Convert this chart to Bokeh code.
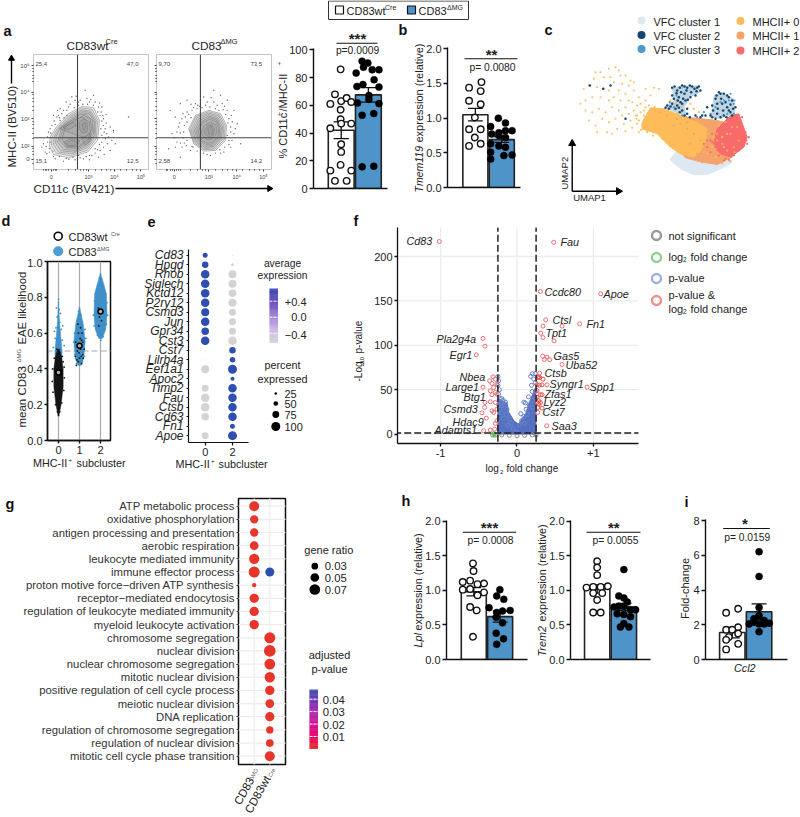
import math
import numpy as np
from bokeh.plotting import figure
from bokeh.models import FixedTicker, Range1d
from bokeh.core.properties import value
from bokeh.embed import file_html
from bokeh.resources import INLINE

FONT = "Liberation Sans"
BLUE = "#4f94c8"
INK = "#222222"

# ---------- data: panel a flow plots (display units of the biexponential axis)
flow_y_ticks = [197, 276, 355, 438, 476]
flow_y_labels = ["10⁵", "10⁴", "10³", "10²", "0"]
flow_y_minor = [205,215,225,235,245,284,295,305,318,330,362,372,385,398,415,445,452,462,490]
flow1_x_ticks = [153, 265, 343, 422]
flow2_x_ticks = [522, 625, 708, 788]
flow1_x_minor = [130,135,140,145,160,165,170,205,225,240,250,258,285,305,320,332,360,380,398,410]
flow2_x_minor = [498,503,510,516,530,535,540,570,590,605,615,645,665,680,695,725,745,760,775]
flow_x_labels = ["0", "10³", "10⁴", "10⁵"]
flow1_gate = (232, 412)
flow2_gate = (600, 412)
flow1_quadrants = ["25,4", "47,0", "15,1", "12,5"]
flow2_quadrants = ["9,70", "73,5", "2,58", "14,2"]
flow1_contours = [
    [(148,437),(160,462),(205,472),(262,455),(292,420),(298,360),(280,322),(245,318),(205,340),(170,378),(150,410)],
    [(154,436),(168,458),(210,466),(262,449),(288,415),(293,360),(276,327),(245,323),(208,344),(174,380),(156,410)],
    [(160,432),(175,455),(215,460),(262,442),(285,410),(288,360),(272,332),(245,328),(210,348),(178,380),(162,410)],
    [(166,428),(182,451),(220,455),(262,436),(282,405),(285,362),(270,336),(245,332),(212,352),(182,380),(168,408)],
    [(172,425),(190,447),(225,450),(262,430),(280,400),(282,365),(268,340),(245,337),(215,355),(185,380)],
    [(178,421),(198,442),(230,444),(264,422),(278,392),(276,360),(258,342),(240,342),(218,358),(190,380)],
    [(185,418),(205,437),(235,438),(265,415),(275,385),(270,355),(250,345),(222,362),(195,380)],
    [(178,385),(215,360),(245,350),(268,365),(270,395),(255,410),(232,405),(205,395)],
    [(188,382),(220,365),(228,375),(205,388)],
    [(238,365),(252,355),(263,372),(260,395),(245,398),(238,385)],
    [(245,372),(254,366),(258,380),(250,390)],
    [(190,425),(210,415),(240,420),(228,440),(200,440)],
    [(198,428),(212,420),(232,424),(222,436),(204,436)],
    [(245,415),(270,400),(272,420),(255,435)],
]
flow2_contours = [
    [(565,385),(585,345),(625,330),(660,340),(678,375),(675,420),(645,450),(610,452),(580,430)],
    [(568,388),(587,348),(625,334),(657,343),(674,376),(671,418),(644,446),(611,448),(582,428)],
    [(572,390),(590,352),(625,338),(655,347),(670,378),(667,415),(642,442),(612,445),(585,425)],
    [(577,391),(594,356),(625,342),(652,351),(666,380),(663,413),(640,438),(613,441),(588,423)],
    [(582,392),(598,360),(625,347),(650,355),(662,382),(660,412),(638,435),(615,437),(592,420)],
    [(587,394),(602,364),(627,351),(649,360),(658,384),(656,410),(636,431),(616,432),(596,418)],
    [(592,395),(605,368),(628,356),(648,365),(655,385),(652,408),(635,427),(618,428),(600,415)],
    [(602,395),(612,375),(630,365),(645,373),(650,390),(645,405),(632,418),(618,418),(608,408)],
    [(612,392),(622,375),(635,373),(642,388),(638,405),(625,410),(615,402)],
    [(622,385),(630,376),(638,388),(635,400),(625,402)],
]
flow1_dots = [(130,430),(140,460),(145,395),(155,375),(170,350),(185,340),(205,320),(225,300),(240,300),(260,295),(285,305),(305,320),(300,345),(310,375),(320,400),(305,425),(300,450),(275,465),(250,475),(225,478),(190,482),(165,475),(135,455),(148,445),(160,345),(180,325),(198,305),(215,290),(255,270),(280,285),(310,355),(330,380),(345,430),(330,450),(340,395),(150,425),(125,440),(295,470),(180,360),(200,330),(235,315),(262,312),(293,335),(312,395),(285,445),(235,465),(385,350),(340,390),(172,330),(192,352),(228,288),(272,298),(298,308),(318,342),(322,430),(312,462),(268,478),(206,476),(158,452),(142,410),
              (150,385),(162,362),(175,345),(190,330),(210,312),(222,322),(235,305),(248,312),(268,305),(280,315),(295,320),(303,335),(308,345),(305,362),(318,368),(302,385),(315,385),(305,405),(316,415),(298,432),(310,440),(292,448),(285,458),(268,465),(258,468),(240,472),(218,470),(198,474),(178,468),(160,468),(148,455),(138,438),(142,425),(152,398),(165,372),(178,352),(200,345),(325,410),(335,420)]
flow2_dots = [(510,330),(525,350),(540,310),(560,300),(585,310),(610,290),(640,270),(660,285),(680,300),(700,330),(695,365),(710,370),(700,400),(690,440),(670,455),(630,465),(600,460),(570,450),(545,440),(530,425),(515,400),(535,380),(545,355),(560,335),(590,325),(620,305),(650,315),(680,330),(690,380),(685,420),(560,420),(550,395),(560,365),(575,330),(600,300),(665,310),(525,440),(505,445),(540,470),(720,430),(572,312),(598,318),(632,292),(672,318),(692,345),(704,385),(694,420),(658,448),(578,440),(552,428),
              (548,340),(555,350),(565,342),(572,352),(580,322),(592,315),(605,322),(615,315),(628,320),(640,305),(645,325),(655,330),(668,328),(675,342),(685,355),(682,368),(690,395),(680,405),(685,432),(672,440),(660,458),(645,458),(620,462),(610,458),(590,452),(575,438),(558,435),(548,412),(540,398),(552,375),(538,368),(530,395),(522,412),(540,428)]

# ---------- data: bar panels
a_wt = [(.98,85.9),(.77,67.9),(1.0,63),(1.2,65.2),(.6,61),(1.37,62.4),(.98,56.8),(.98,49.9),(.6,43.4),(1.0,46.8),(1.37,46.8),(1.0,31.9),(1.0,26.4),(.98,17),(.6,12.9),(1.37,12.9),(.77,5.5),(1.2,5.5)]
a_ko = [(1.77,91.8),(1.98,90.4),(1.55,83.2),(1.82,87.5),(2.14,85.6),(2.39,85.6),(2.21,78.4),(1.58,73.6),(1.8,75),(2.39,73.1),(2.02,67.1),(2.02,64.3),(1.6,61.6),(2.39,61.2),(1.77,52.8),(2.2,54),(1.77,15.6),(2.2,16.1)]
a_means, a_errs = [42, 67.5], [6, 5.2]
b_wt = [(.76,1.44),(1.23,1.52),(1.2,1.39),(.76,1.25),(1.2,1.2),(.98,1.01),(.76,.84),(1.2,.84),(.98,.72),(.76,.6),(1.2,.63)]
b_ko = [(1.87,1.0),(2.14,.93),(1.58,.88),(1.89,.79),(2.14,.82),(2.39,.82),(1.62,.77),(2.14,.72),(1.89,.75),(1.58,.63),(1.89,.6),(2.14,.58),(2.39,.47),(2.08,.46),(1.58,.51),(1.58,.41)]
b_means, b_errs = [1.05, .69], [.09, .04]
h1_wt = [(.97,1.39),(.99,1.28),(.58,1.12),(.86,1.14),(1.14,1.09),(1.39,1.1),(.58,1.01),(.86,1.02),(1.39,.97),(1.14,.93),(.86,.76),(1.11,.71),(.97,.33)]
h1_ko = [(1.99,1.01),(1.87,.92),(2.14,.87),(1.58,.75),(1.87,.68),(2.09,.7),(2.38,.71),(1.85,.61),(2.09,.53),(1.85,.38),(2.13,.3),(1.87,.22)]
h1_means, h1_errs = [.98, .62], [.06, .08]
h2_wt = [(1.0,1.42),(1.0,1.33),(1.0,1.22),(.6,1.04),(.85,1.05),(1.13,1.05),(1.4,1.06),(.85,.96),(1.19,.96),(1.0,.86),(.85,.68),(1.13,.68)]
h2_ko = [(2.0,1.3),(1.81,.92),(2.0,.89),(2.13,.83),(1.63,.76),(1.81,.77),(2.0,.77),(2.25,.72),(2.44,.72),(1.75,.66),(2.0,.65),(2.25,.62),(1.87,.47),(2.19,.47),(2.0,.52)]
h2_means, h2_errs = [1.02, .76], [.06, .05]
i_wt = [(.77,2.69),(1.22,2.92),(1.22,1.86),(.77,1.71),(1.0,1.71),(.87,1.29),(1.22,1.5),(.77,1.13),(1.22,.9),(.77,.58)]
i_ko = [(2.0,6.2),(2.0,4.78),(2.0,3.0),(2.0,2.53),(1.81,2.34),(2.19,2.25),(1.63,2.05),(1.81,2.15),(2.0,2.05),(2.19,2.05),(2.38,2.09),(2.0,1.6)]
i_means, i_errs = [1.55, 2.75], [.3, .45]

# ---------- data: UMAP (c), in embedding display units
umap_vfc1 = [(418,478),(450,505),(490,522),(530,522),(570,505),(602,488),(580,460),(500,440),(440,450)]
umap_mhc1 = [(400,340),(470,350),(560,360),(600,370),(610,420),(605,470),(560,492),(510,484),(465,472),(440,440),(420,400)]
umap_mhc0 = [(335,365),(360,322),(400,325),(450,345),(500,365),(530,385),(525,420),(510,452),(490,470),(450,460),(420,440),(380,400),(335,385)]
umap_mhc2 = [(560,385),(600,345),(625,340),(650,410),(640,440),(600,470),(570,460),(550,430)]
umap_vfc2a = [(425,265),(450,255),(500,255),(510,275),(480,290),(462,320),(470,350),(420,330),(402,320),(430,300)]
umap_vfc2b = [(550,285),(575,275),(610,295),(615,340),(570,355),(540,350)]
umap_sparse = [(195,215),(210,215),(235,205),(255,200),(265,210),(270,225),(285,225),(300,240),(310,245),(190,235),(220,230),(240,230),(250,245),(275,250),(295,255),(160,265),(175,255),(200,260),(220,265),(235,270),(265,270),(285,280),(310,270),(150,310),(165,300),(185,290),(210,290),(235,300),(250,290),(270,300),(295,300),(325,290),(345,265),(370,262),(385,265),(165,330),(185,335),(205,325),(225,335),(245,320),(265,330),(285,320),(305,305),(320,315),(175,360),(195,375),(215,355),(235,365),(255,355),(275,345),(295,340),(310,330),(330,310),(345,300),(360,285),(230,395),(245,400),(260,385),(280,370),(300,360),(315,345),(200,395),(320,370),(325,395),(345,320),(330,335),(318,355),(305,382),(285,392),(340,345)]
umap_dark = [(178,255),(240,255),(218,265),(285,355),(425,262),(440,270),(455,255),(470,262),(485,258),(500,262),(510,270),(495,285),(480,290),(462,280),(445,290),(430,295),(420,318),(405,322),(440,315),(455,330),(470,340),(495,345),(515,345),(465,300),(450,305),(530,320),(545,315),(555,295),(570,280),(590,285),(605,300),(615,320),(600,335),(580,345),(560,340),(545,350),(575,310),(590,320),
             (432,258),(448,262),(462,258),(478,255),(492,265),(505,258),(438,278),(452,275),(468,270),(482,275),(498,272),(425,285),(442,300),(458,295),(472,298),(435,325),(415,325),(448,335),(462,345),(478,350),(425,310),(410,315),(445,322),(455,310),(470,325),(558,285),(565,275),(580,280),(595,290),(572,295),(585,305),(600,312),(560,310),(548,330),(562,325),(578,330),(595,330),(605,345),(555,355),(570,350),(588,350),(540,345),(525,345),(510,350),(608,325)]
umap_mid = [(610,310),(580,300),(610,340),(540,340),(455,345),(430,320),(595,300),(500,350),(520,335),(438,285),(418,305),(600,280),(570,305),(555,320),(590,340),(612,300),(440,300)]
umap_yellow = [(420,300),(435,310),(450,318),(480,310),(490,325),(505,335),(440,340),(465,355),(520,455),(500,445),(470,430),(485,410),(510,395),(535,400),(550,410),(565,375),(470,460),(450,450),(430,425),
               (345,350),(360,340),(375,335),(390,330),(350,375),(365,385),(385,395),(405,345),(420,355),(430,370),(445,385),(455,400),(470,395),(480,380),(495,375),(510,385),(520,410),(505,425),(490,440),(475,450),(455,440),(440,420),(425,410),(410,400),(400,380),(560,420),(575,410),(545,440),(530,460),(555,470),(580,440),(590,400),(335,375),(325,360),(320,345),(340,330),(355,315),(372,320),(332,388),(350,395),(368,405),(395,415),(415,430)]
umap_red = [(545,400),(540,420),(560,450),(580,480),(600,350),(615,345),(630,365),(645,395),(648,420),(625,450),(595,478),(610,465),(530,440),(570,400),(580,385),(590,430),(575,460),(555,440),(545,425),(605,355),(590,370),(655,410),(650,430),(640,395),(635,350),(585,475),(565,465),(540,455),(530,420),(520,430)]
umap_orange = [(600,482),(575,488),(540,488),(515,485),(612,455),(605,380),(585,365),(470,365),(440,355),(410,345),(390,335),(430,375),(450,370),(470,385),(490,400),(510,420),(500,460),(480,430),(540,380),(560,400),(575,430),(590,450),(610,440),(625,420),(600,400),(620,380),(570,370),(545,365)]

# ---------- data: panel d
d_categories = [0, 1, 2]
d0_black_y, d0_black_w = [.14,.2,.3,.4,.47,.51], [.02,.12,.22,.22,.14,.04]
d0_blue_y, d0_blue_w = [.42,.5,.6,.7,.78], [.15,.17,.09,.03,.01]
d1_blue_y, d1_blue_w = [.42,.46,.55,.65,.72,.74], [.08,.2,.27,.18,.05,.01]
d2_blue_y, d2_blue_w = [.57,.62,.7,.82,.88,.93], [.08,.25,.31,.28,.14,.01]
d_blue_dots = [(0,.79),(.03,.73),(-.06,.69),(.06,.66),(-.12,.63),(.13,.62),(-.16,.57),(.18,.56),(.05,.6),(-.25,.52),(.27,.53),(-.2,.61),(.2,.64),(-.1,.74),(.09,.71),(1,.74),(.95,.72),(1.06,.7),(.88,.67),(1.13,.66),(.76,.6),(1.26,.62),(.72,.55),(1.3,.57),(.78,.48),(1.24,.47),(.86,.43),(1.14,.44),(2,.93),(1.95,.91),(2.06,.9),(1.88,.87),(2.14,.85),(1.72,.78),(2.3,.77),(1.66,.7),(2.34,.7),(1.7,.64),(2.28,.65),(1.85,.59),(2.13,.58),(2.02,.56)]
d_black_dots = [(0,.14),(-.05,.16),(.06,.16),(-.14,.2),(.15,.21),(-.26,.27),(.25,.28),(-.3,.33),(.28,.35),(-.28,.4),(.27,.41),(-.2,.46),(.18,.47),(-.08,.51),(.05,.49),(.1,.45),(-.1,.44),(.22,.44),(.85,.42),(.95,.44),(1.1,.43),(1.18,.46),(.8,.47),(.9,.5),(1.05,.51),(1.22,.51),(.82,.55),(1.1,.56),(.95,.6),(1.05,.63),(.92,.65),(1.12,.6),(1.0,.46),(.88,.45),(1.15,.48),(.98,.49),(1.08,.47),(.93,.53),(1.03,.57),(1.16,.55),(1.92,.64),(2.05,.67),(2.1,.72),(1.9,.74),(1.95,.69)]
d_wt_means = [.38, .53, .72]

# ---------- data: panel e
e_genes = ["Cd83","Hpgd","Rhob","Siglech","Kctd12","P2ry12","Csmd3","Jun","Gpr34","Cst3","Cst7","Lilrb4a","Eef1a1","Apoc2","Timp2","Fau","Ctsb","Cd63","Fn1","Apoe"]
e_pct_0 = [54,71,94,94,94,94,88,94,83,94,8,8,88,2,77,94,94,83,2,77]
e_pct_2 = [8,31,88,88,83,88,77,77,77,94,71,60,100,43,94,94,94,94,54,100]
e_high_0 = [1,1,1,1,1,1,1,1,1,1,0,0,0,0,0,0,0,0,0,0]
e_high_2 = [0,0,0,0,0,0,0,0,0,0,1,1,1,1,1,1,1,1,1,1]
e_x_labels = ["0", "2"]
e_legend_pct = [25, 50, 75, 100]
e_bar_ticks = [0.4, 0.0, -0.4]
e_bar_labels = ["+0.4", "0.0", "−0.4"]
e_palette = ["#d6d6d6", "#cfb8ea", "#a583d8", "#6a4cb8", "#3f4fb3"]

# ---------- data: panel f
f_named = [(-1.017,216.9),(.48,216),(.306,160.6),(1.096,158),(.376,128.7),(.59,121.6),(.82,124.2),(.34,121.6),(.31,113.7),(.34,108.8),(.485,105),(-.445,107.7),(-.42,99),(-.533,89.3),(.336,87.8),(.393,86.7),(.358,84),(.428,83.7),(.59,78.4),(.917,52.9),(.297,68.7),(.393,55.5),(-.445,52.9),(.389,9.4),(.27,24.4)]
f_left = [(-.314,64.5),(-.358,60),(-.284,61.9),(-.328,57),(-.262,56.3),(-.306,52.5),(-.349,48.8),(-.284,46.9),(-.328,44.3),(-.262,45),(-.349,36.4),(-.419,35.6),(-.284,35.6),(-.424,30),(-.328,26.3),(-.262,28.1),(-.459,24),(-.306,24.4),(-.402,18),(-.284,12),(-.262,15),(-.437,3.8),(-.349,4.5),(-.293,5.6)]
f_right = [(.271,63.8),(.297,63.8),(.284,64.5),(.341,61.9),(.262,55.5),(.293,55.2),(.328,55.5),(.262,48.8),(.306,44.3),(.328,44.3),(.262,41.3),(.284,37.5),(.306,35.6),(.262,35.6),(.284,33.8),(.328,29.3),(.271,30)]
f_blue = [(-.25,65),(-.24,60),(-.25,55),(-.23,50),(-.24,45),(-.22,40),(-.2,40),(-.18,38),(-.15,36),(-.24,33),(-.2,32),(-.16,33),(-.22,28),(-.13,28),(-.2,24),(-.14,22),(-.1,17),(-.18,18),(-.08,12),(-.12,10),(-.05,6),(0,2),(.2,68),(.18,65),(.24,68),(.22,62),(.19,55),(.24,58),(.2,48),(.24,48),(.15,42),(.09,36),(.11,35),(.2,38),(.24,40),(.16,33),(.12,28),(.2,30),(.05,23),(.09,20),(.06,15),(.14,22),(.03,10),(.1,12)]
f_blue_mass = [(-.25,40),(-.13,35),(-.11,25),(-.04,15),(.02,11),(.07,18),(.11,22),(.15,33),(.24,52),(.25,0),(-.25,0)]
f_green = [(-.32,-1),(-.3,-1),(-.28,-1),(-.3,.5)]
f_grey = [(-.2,-1),(-.1,-1.5),(0,-2),(.1,-1.5),(.2,-1),(.25,-1)]
f_thresholds = (-.25, .25, 1.3)
f_labels = [("Cd83",406,240),("Fau",560,241),("Ccdc80",544,291),("Apoe",603,293),("Ctsl",552,319),("Fn1",586,323),("Tpt1",545,332),("Pla2g4a",436,338),("Egr1",449,354),("Gas5",553,355),("Uba52",565,364),("Ctsb",544,372),("Nbea",459,376),("Syngr1",549,383),("Large1",445,386),("Spp1",589,386),("Btg1",463,396),("Zfas1",544,393),("Lyz2",543,401),("Csmd3",443,408),("Cst7",542,411),("Hdac9",452,421),("Saa3",551,425),("Adamts1",434,429)]

# ---------- data: panel g
g_terms = ["ATP metabolic process","oxidative phosphorylation","antigen processing and presentation","aerobic respiration","leukocyte mediated immunity","immune effector process","proton motive force−driven ATP synthesis","receptor−mediated endocytosis","regulation of leukocyte mediated immunity","myeloid leukocyte activation","chromosome segregation","nuclear division","nuclear chromosome segregation","mitotic nuclear division","positive regulation of cell cycle process","meiotic nuclear division","DNA replication","regulation of chromosome segregation","regulation of nuclear division","mitotic cell cycle phase transition"]
g_row_a = [0,1,2,3,4,5,6,7,8,9]
g_ratio_a = [.063,.046,.046,.05,.066,.073,.006,.056,.056,.056]
g_row_b = [5,10,11,12,13,14,15,16,17,18,19]
g_ratio_b = [.053,.073,.08,.07,.066,.056,.05,.056,.036,.04,.063]
g_col_b = ["#2f4fb0"]+["#e6352b"]*10
g_legend_ratio = [.03,.05,.07]
g_legend_labels = ["0.03","0.05","0.07"]
g_p_ticks = [.04,.03,.02,.01]
g_p_labels = ["0.04","0.03","0.02","0.01"]
g_palette = ["#e6352b", "#e8006e", "#c71fa0", "#8e2fb0", "#3f51b5"]


def abs_style(left, top):
    return {"position": "absolute", "left": f"{left}px", "top": f"{top}px"}


def rng(v0, p0, v1, p1, a, b):
    s = (v1 - v0) / (p1 - p0)
    return Range1d(v0 + (a - p0) * s, v0 + (b - p0) * s)


def panel(x0, y0, x1, y1, xr, yr, L=4, B=4, R=4, T=4):
    x0r, y0r, x1r, y1r = round(x0), round(y0), round(x1), round(y1)
    p = figure(width=x1r-x0r+L+R, height=y1r-y0r+T+B, x_range=xr, y_range=yr,
               toolbar_location=None, output_backend="svg",
               min_border_left=L, min_border_right=R, min_border_top=T, min_border_bottom=B,
               background_fill_color=None, border_fill_color=None, outline_line_color=None,
               styles=abs_style(x0r-L, y0r-T))
    p.grid.visible = False
    p.axis.axis_label_text_font = FONT
    p.axis.major_label_text_font = FONT
    return p


def hide_axes(p):
    p.xaxis.visible = False
    p.yaxis.visible = False


def style_axis(ax, ticks, size=11, tick=4, lw=1.4, labels=None, color=INK):
    ax.ticker = FixedTicker(ticks=ticks)
    ax.major_label_text_font_size = f"{size}px"
    ax.major_label_text_color = color
    ax.major_tick_out = tick
    ax.major_tick_in = 0
    ax.minor_tick_out = 0
    ax.minor_tick_in = 0
    ax.axis_line_width = lw
    ax.axis_line_color = "#111111"
    ax.major_tick_line_color = "#111111"
    ax.major_tick_line_width = lw
    ax.major_label_standoff = 2
    if labels is not None:
        ax.major_label_overrides = dict(zip(ticks, labels))


def xs(pts):
    return [q[0] for q in pts]


def ys(pts):
    return [q[1] for q in pts]


def ramp(palette, n=48):
    out = []
    for t in np.linspace(0, 1, n):
        k = min(int(t*(len(palette)-1)), len(palette)-2)
        f = t*(len(palette)-1)-k
        a = [int(palette[k][i:i+2], 16) for i in (1, 3, 5)]
        b = [int(palette[k+1][i:i+2], 16) for i in (1, 3, 5)]
        out.append("#%02x%02x%02x" % tuple(round(u+(v-u)*f) for u, v in zip(a, b)))
    return out


figs = []


def bars(x0, y0, x1, y1, v0, p0, v1, p1, c1px, unit, ticks, labels, wt, ko, means, errs, L=40):
    top_px = round(y0) - 1
    xr = rng(1, c1px, 2, c1px + unit, x0, x1)
    yr = rng(v0, p0, v1, p1, y1, top_px)
    p = panel(x0, top_px, x1, y1, xr, yr, L=L, B=6, R=4, T=6)
    style_axis(p.yaxis[0], ticks, labels=labels)
    style_axis(p.xaxis[0], [])
    p.xaxis[0].major_label_text_font_size = "0px"
    p.vbar(x=[1, 2], width=.95, top=means, bottom=v0, fill_color=["white", BLUE],
           line_color="#222222", line_width=1.6)
    p.segment(x0=[1, 2], x1=[1, 2], y0=[m-e for m, e in zip(means, errs)],
              y1=[m+e for m, e in zip(means, errs)], line_color="#111111", line_width=1.3)
    for sign in (-1, 1):
        p.segment(x0=[.72, 1.72], x1=[1.28, 2.28], y0=[m+sign*e for m, e in zip(means, errs)],
                  y1=[m+sign*e for m, e in zip(means, errs)], line_color="#111111", line_width=1.3)
    p.scatter(xs(wt), ys(wt), size=6.5, fill_color="white", line_color="#111111", line_width=1.4)
    p.scatter(xs(ko), ys(ko), size=7, fill_color="#000000", line_color="#000000", line_width=.5)
    figs.append(p)


# ---- flow
def flow(x0, crop0, crop1, xticks, xminor, gate, contours, dots, quads, show_labels):
    xr = Range1d(crop0, crop1)
    yr = Range1d(507, 163)
    p = panel(x0, 54, x0+115, 169, xr, yr, L=22, B=16, R=3, T=3)
    p.outline_line_color = "#c4c4c4"
    p.outline_line_width = 1
    ax = p.xaxis[0]
    style_axis(ax, xticks, size=5.5, tick=2, lw=.8, labels=flow_x_labels, color="#444444")
    ax.ticker = FixedTicker(ticks=xticks, minor_ticks=xminor)
    ax.minor_tick_out = 1
    ax.minor_tick_line_color = "#111111"
    ax.axis_line_color = None
    ay = p.yaxis[0]
    style_axis(ay, flow_y_ticks, size=6 if show_labels else 1, tick=2, lw=.8,
               labels=flow_y_labels if show_labels else ["", "", "", "", ""], color="#444444")
    ay.ticker = FixedTicker(ticks=flow_y_ticks, minor_ticks=flow_y_minor)
    ay.minor_tick_out = 1
    ay.minor_tick_line_color = "#111111"
    ay.axis_line_color = None
    p.scatter(xs(dots), ys(dots), size=1.4, color="#666666", line_width=0)
    lx = [[q[0] for q in c]+[c[0][0]] for c in contours]
    ly = [[q[1] for q in c]+[c[0][1]] for c in contours]
    p.patches(lx, ly, fill_color="#444444", fill_alpha=.07, line_color="#777777", line_width=.6, line_alpha=.9)
    p.segment(x0=[gate[0], crop0], x1=[gate[0], crop1], y0=[507, gate[1]], y1=[163, gate[1]],
              line_color="#444444", line_width=1.1)
    p.text(x=[crop0+6, crop0+280, crop0+6, crop0+280], y=[190, 190, 482, 482], text=quads,
           text_font=value(FONT), text_font_size="6px", text_color="#444444", text_baseline="middle")
    figs.append(p)


flow(33, 100, 445, flow1_x_ticks, flow1_x_minor, flow1_gate, flow1_contours, flow1_dots, flow1_quadrants, True)
flow(156, 469, 812, flow2_x_ticks, flow2_x_minor, flow2_gate, flow2_contours, flow2_dots, flow2_quadrants, False)

bars(313, 49.3, 387, 188.3, 0, 188.3, 100, 49.3, 340.7, 27.17, [0,20,40,60,80,100], None, a_wt, a_ko, a_means, a_errs)
bars(446.7, 48.3, 520, 186.7, 0, 186.7, 2, 48.3, 474.7, 26.5, [0,.5,1,1.5,2], ["0.0","0.5","1.0","1.5","2.0"], b_wt, b_ko, b_means, b_errs)
bars(445.7, 520.7, 526.7, 659.3, 0, 659.3, 2, 520.7, 473, 26.33, [0,.5,1,1.5,2], ["0.0","0.5","1.0","1.5","2.0"], h1_wt, h1_ko, h1_means, h1_errs)
bars(570, 520.7, 650, 659.3, 0, 659.3, 2, 520.7, 596.7, 26.67, [0,.5,1,1.5,2], ["0.0","0.5","1.0","1.5","2.0"], h2_wt, h2_ko, h2_means, h2_errs)
bars(705, 520, 786.7, 659, 0, 659, 8, 520, 731.7, 26.67, [0,2,4,6,8], None, i_wt, i_ko, i_means, i_errs, L=20)

# ---- umap
pc = panel(530, 60, 800, 200, Range1d(0, 810), Range1d(600, 180), L=0, B=0, R=0, T=0)
hide_axes(pc)
pc.patch(xs(umap_vfc1), ys(umap_vfc1), fill_color="#dde8f2", line_color="#dde8f2")
pc.patch(xs(umap_mhc1), ys(umap_mhc1), fill_color="#f4a46a", line_color="#f4a46a")
pc.patch(xs(umap_mhc0), ys(umap_mhc0), fill_color="#fdbb5a", line_color="#fdbb5a")
pc.patch(xs(umap_mhc2), ys(umap_mhc2), fill_color="#f96a6a", line_color="#f96a6a")
pc.patch(xs(umap_vfc2a), ys(umap_vfc2a), fill_color="#2a6d99", fill_alpha=.3, line_color=None)
pc.patch(xs(umap_vfc2b), ys(umap_vfc2b), fill_color="#2a6d99", fill_alpha=.3, line_color=None)
pc.scatter(xs(umap_sparse), ys(umap_sparse), size=2, color="#fdbb5a", line_width=0)
pc.scatter(xs(umap_orange), ys(umap_orange), size=2.2, color="#f4a46a", line_width=0)
pc.scatter(xs(umap_yellow), ys(umap_yellow), size=2.2, color="#fdbb5a", line_width=0)
pc.scatter(xs(umap_red), ys(umap_red), size=2.2, color="#f96a6a", line_width=0)
pc.scatter(xs(umap_mid), ys(umap_mid), size=2.2, color="#4a9ac9", line_width=0)
pc.scatter(xs(umap_dark), ys(umap_dark), size=2.5, color="#12466f", line_width=0)
figs.append(pc)

# ---- d
pd_ = panel(47, 261, 110, 440, rng(0, 58, 2, 100, 47, 110), rng(0, 440, 1, 261, 440, 261), L=34, B=20, R=3, T=3)
pd_.outline_line_color = "#111111"
pd_.outline_line_width = 1.5
style_axis(pd_.yaxis[0], [0,.2,.4,.6,.8,1], labels=["0.0","0.2","0.4","0.6","0.8","1.0"], tick=3, size=11)
style_axis(pd_.xaxis[0], d_categories, labels=["0","1","2"], tick=3, size=11)
pd_.segment(x0=d_categories, x1=d_categories, y0=[0,0,0], y1=[1,1,1], line_color="#aaaaaa", line_width=1.2)
pd_.segment(x0=[-1], x1=[3], y0=[.5], y1=[.5], line_color="#aaaaaa", line_width=1.2, line_dash="6 3")


def spindle(p, c, y, w, color):
    p.patch([c+q for q in w]+[c-q for q in reversed(w)], list(y)+list(reversed(y)),
            fill_color=color, line_color=color, line_width=.5)


spindle(pd_, 0, d0_blue_y, d0_blue_w, "#3f90c8")
spindle(pd_, 1, d1_blue_y, d1_blue_w, "#3f90c8")
spindle(pd_, 2, d2_blue_y, d2_blue_w, "#3f90c8")
spindle(pd_, 0, d0_black_y, d0_black_w, "#151515")
pd_.scatter(xs(d_blue_dots), ys(d_blue_dots), size=1.8, color="#3f90c8", line_width=0)
pd_.scatter(xs(d_black_dots), ys(d_black_dots), size=1.8, color="#151515", line_width=0)
pd_.scatter(d_categories, d_wt_means, size=5, fill_color="#b0b0b0", line_color="#000000", line_width=1.5)
figs.append(pd_)

# ---- e
pe = panel(188.3, 249.3, 248.3, 441.7, rng(0, 205, 1, 232.3, 188.3, 248.3), rng(0, 255, 19, 434.9, 441.7, 249.3), L=60, B=18, R=3, T=3)
style_axis(pe.yaxis[0], list(range(20)), size=12, tick=2, lw=1.2, labels=e_genes)
pe.yaxis[0].major_label_text_font_style = "italic"
pe.yaxis[0].major_label_standoff = 3
style_axis(pe.xaxis[0], [0, 1], size=11, tick=3, lw=1.2, labels=e_x_labels)


def pct_size(v):
    return .3 + .087*np.asarray(v, float)


rows = list(range(20))
pe.scatter([0]*20, rows, size=pct_size(e_pct_0), line_width=0,
           color=["#2f4fb0" if h else "#d3d3d3" for h in e_high_0])
pe.scatter([1]*20, rows, size=pct_size(e_pct_2), line_width=0,
           color=["#2f4fb0" if h else "#d3d3d3" for h in e_high_2])
figs.append(pe)

# colour bar e
pbe = panel(269, 288, 278, 343, Range1d(0, 1), rng(0, 316.7, .4, 300.7, 343, 288), L=0, B=0, R=0, T=0)
hide_axes(pbe)
edges = np.linspace(pbe.y_range.start, pbe.y_range.end, 49)
cols = ramp(e_palette)
pbe.quad(left=0, right=1, bottom=edges[:-1], top=edges[1:], fill_color=cols, line_color=cols, line_width=.6)
pbe.segment(x0=[0]*3, x1=[1]*3, y0=e_bar_ticks, y1=e_bar_ticks, line_color="white", line_width=1, line_dash="3 1")
figs.append(pbe)

# ---- f
pf = panel(397.3, 226.7, 637.7, 442.7, rng(-1, 440.3, 1, 592.7, 397.3, 637.7), rng(0, 433.3, 200, 255.7, 442.7, 226.7), L=36, B=20, R=2, T=2)
style_axis(pf.yaxis[0], [0,50,100,150,200], size=11, tick=3, lw=1.3)
style_axis(pf.xaxis[0], [-1,0,1], size=11, tick=3, lw=1.3, labels=["-1","0","+1"])
pf.segment(x0=[-1,0,1], x1=[-1,0,1], y0=[-20]*3, y1=[240]*3, line_color="#ececec", line_width=1.3)
pf.segment(x0=[-2]*5, x1=[2]*5, y0=[0,50,100,150,200], y1=[0,50,100,150,200], line_color="#ececec", line_width=1.3)
pf.patch(xs(f_blue_mass), ys(f_blue_mass), fill_color="#5470c0", line_color="#5470c0")
pf.scatter(xs(f_grey), ys(f_grey), size=4, fill_color=None, line_color="#888888", line_width=1)
pf.scatter(xs(f_green), ys(f_green), size=4, fill_color=None, line_color="#5cb85c", line_width=1)
pf.scatter(xs(f_blue), ys(f_blue), size=4, fill_color=None, line_color="#6a84cc", line_width=1)
pf.scatter(xs(f_left), ys(f_left), size=4, fill_color=None, line_color="#ea6f73", line_width=1)
pf.scatter(xs(f_right), ys(f_right), size=4, fill_color=None, line_color="#ea4f50", line_width=1)
pf.scatter(xs(f_named), ys(f_named), size=4, fill_color=None, line_color="#ea6f73", line_width=1)
pf.segment(x0=[f_thresholds[0], f_thresholds[1]], x1=[f_thresholds[0], f_thresholds[1]], y0=[-20, -20], y1=[233, 233],
           line_color="#222222", line_width=1.5, line_dash="7 3")
pf.segment(x0=[-2], x1=[2], y0=[f_thresholds[2]], y1=[f_thresholds[2]], line_color="#222222", line_width=1.5, line_dash="7 3")
figs.append(pf)

# ---- g
pg = panel(238, 498.3, 285, 764, rng(0, 253.7, 1, 269.3, 238, 285), rng(0, 506, 19, 755.7, 764, 498.3), L=236, B=4, R=2, T=2)
pg.outline_line_color = "#111111"
pg.outline_line_width = 1.5
style_axis(pg.yaxis[0], list(range(20)), size=11.3, tick=2, lw=.8, labels=g_terms, color="#333333")
pg.yaxis[0].axis_line_color = None
pg.xaxis.visible = False
pg.segment(x0=[0,1], x1=[0,1], y0=[-1,-1], y1=[20,20], line_color="#ececec", line_width=1.2)
pg.segment(x0=[-2]*20, x1=[3]*20, y0=list(range(20)), y1=list(range(20)), line_color="#ececec", line_width=1.2)


def ratio_size(v):
    return 6.7 + 100*(np.asarray(v, float)-.03)


pg.scatter([0]*10, g_row_a, size=ratio_size(g_ratio_a), color="#e6352b", line_width=0)
pg.scatter([1]*11, g_row_b, size=ratio_size(g_ratio_b), color=g_col_b, line_width=0)
figs.append(pg)

# colour bar g
pbg = panel(309.3, 689.3, 317.7, 749.3, Range1d(0, 1), rng(.04, 699, .01, 736.3, 749.3, 689.3), L=0, B=0, R=0, T=0)
hide_axes(pbg)
edges2 = np.linspace(pbg.y_range.start, pbg.y_range.end, 49)
cols2 = ramp(g_palette)
pbg.quad(left=0, right=1, bottom=edges2[:-1], top=edges2[1:], fill_color=cols2, line_color=cols2, line_width=.6)
pbg.segment(x0=[0]*4, x1=[1]*4, y0=g_p_ticks, y1=g_p_ticks, line_color="white", line_width=1, line_dash="3 1")
figs.append(pbg)

# ---- page overlay: text, legends, arrows
page = figure(width=800, height=817, x_range=Range1d(0, 800), y_range=Range1d(817, 0),
              toolbar_location=None, output_backend="svg", min_border=0,
              background_fill_color=None, border_fill_color=None, outline_line_color=None,
              styles=abs_style(0, 0))
page.axis.visible = False
page.grid.visible = False


def T(x, y, s, size=10.5, align="left", style="normal", angle=0, color=INK, base="middle"):
    page.text(x=[x], y=[y], text=[s], text_font=value(FONT), text_font_size=value(f"{size}px"),
              text_font_style=style, text_align=align, text_baseline=base, text_color=color,
              angle=math.radians(angle))


def arrow(x0, y0, x1, y1):
    page.segment(x0=[x0], y0=[y0], x1=[x1], y1=[y1], line_color="#000000", line_width=1.4)


# panel letters
for s, x, y in [("a",3,30),("b",398,29),("c",544,29),("d",1,220),("e",147,221),("f",353,220),("g",5,503),("h",401,500),("i",684,501)]:
    T(x, y, s, size=14.5, style="bold", color="#111111")

# top legend
page.quad(left=[328], right=[468], top=[0.5], bottom=[19], fill_color="white", line_color="#333333", line_width=1)
page.scatter([339], [9.5], size=8, marker="square", fill_color="white", line_color="#111111", line_width=1.2)
T(346, 10, "CD83wt", 11)
T(384.5, 6.5, "Cre", 7)
page.scatter([411], [9.5], size=8, marker="square", fill_color=BLUE, line_color="#111111", line_width=1.2)
T(418, 10, "CD83", 11)
T(446.5, 6.5, "ΔMG", 7)

# a
T(66, 45, "CD83wt", 11.8)
T(105, 41, "Cre", 7.5)
T(191, 45, "CD83", 11.8)
T(220, 41, "ΔMG", 7.5)
T(11, 167, "MHC-II (BV510)", 11.5, angle=90)
arrow(11, 83, 11, 58)
page.scatter([11], [58], size=6, marker="triangle", color="#000000")
T(33, 188, "CD11c (BV421)", 11.7)
arrow(115, 188, 269, 188)
page.scatter([269], [188], size=6, marker="triangle", color="#000000", angle=-math.pi/2)
T(282, 158, "% CD11c", 11, angle=90)
T(279, 115.5, "+", 6.5, angle=90)
T(282, 111, "/MHC-II", 11, angle=90)
T(279, 65, "+", 6.5, angle=90)
T(357, 38, "***", 15, align="center", style="bold")
page.segment(x0=[336], x1=[377], y0=[42.7], y1=[42.7], line_color="#111111", line_width=1.1)
T(357, 50, "p=0.0009", 10.3, align="center")

# b
T(418, 192, "Tmem119", 10.5, angle=90, style="italic")
T(418, 142, "expression (relative)", 11, angle=90)
T(491, 54, "**", 15, align="center", style="bold")
page.segment(x0=[464], x1=[517], y0=[58.3], y1=[58.3], line_color="#111111", line_width=1.1)
T(492, 67, "p= 0.0080", 10.3, align="center")

# c legend
page.scatter([641, 641, 641], [20, 34.5, 48.5], size=8, color=["#dde8f2", "#12466f", "#4a9ac9"], line_width=0)
page.scatter([740, 740, 740], [20.5, 35, 50], size=8, color=["#fdbb5a", "#f4a46a", "#f96a6a"], line_width=0)
for s, y in [("VFC cluster 1",21),("VFC cluster 2",35),("VFC cluster 3",49)]:
    T(653, y, s, 11)
for s, y in [("MHCII+ 0",21),("MHCII+ 1",35),("MHCII+ 2",50)]:
    T(752, y, s, 11)
arrow(571.7, 190.7, 571.7, 143)
arrow(571.7, 190.7, 618, 190.7)
page.scatter([571.7], [143], size=7, marker="triangle", color="#000000")
page.scatter([618], [190.7], size=7, marker="triangle", color="#000000", angle=-math.pi/2)
T(564, 172.7, "UMAP2", 9.5, align="center", angle=90)
T(589, 197, "UMAP1", 9.5, align="center")

# d
page.scatter([57.7], [235.7], size=8, fill_color="white", line_color="#000000", line_width=1.6)
page.scatter([57.7], [250.7], size=10, color="#4f9ed1", line_width=0)
T(68, 236, "CD83wt", 11)
T(110.5, 233.5, "Cre", 5.5, color="#555555")
T(68, 251, "CD83", 11)
T(96.5, 248.5, "ΔMG", 5.5, color="#555555")
T(21, 427, "mean CD83", 11.5, angle=90)
T(18, 362, "ΔMG", 6, angle=90, color="#555555")
T(21, 344, "EAE  likelihood", 11.3, angle=90)
T(32.5, 462, "MHC-II", 10.8)
T(68, 459, "+", 6)
T(76, 462, "subcluster", 10.8)

# e
T(175, 463, "MHC-II", 10.8)
T(210.5, 460, "+", 6)
T(218, 463, "subcluster", 10.8)
T(282, 263, "average", 10.3, align="center")
T(282, 275, "expression", 10.3, align="center")
for s, y in zip(e_bar_labels, [301.5, 316, 334]):
    T(306, y, s, 11, align="right")
T(282, 364, "percent", 10.8, align="center")
T(282, 378, "expressed", 10.8, align="center")
page.scatter([275.3]*4, [393, 403, 414, 426], size=pct_size(e_legend_pct), color="#000000", line_width=0)
for s, y in zip(["25","50","75","100"], [393, 403, 414, 426]):
    T(284, y, s, 11)

# f
T(358, 381, "-Log", 10, angle=90)
T(361, 363, "10", 6, angle=90)
T(358, 353, "p-value", 10, angle=90)
T(485, 468, "log", 10)
T(499.5, 471, "2", 6)
T(506, 468, "fold change", 10)
for s, x, y in f_labels:
    T(x, y, s, 10.8, style="italic")
page.scatter([656]*4, [235, 257, 278, 300], size=9, fill_color=None,
             line_color=["#999999", "#8fcf8f", "#9fb0e0", "#f29088"], line_width=2.4)
T(668, 235, "not significant", 11)
T(668, 256, "log", 11)
T(682.5, 259, "2", 6.5)
T(690, 256, "fold change", 11)
T(668, 277, "p-value", 11)
T(668, 294, "p-value &", 11)
T(668, 308, "log", 11)
T(682.5, 311, "2", 6.5)
T(690, 308, "fold change", 11)

# g
T(250.7, 777.7, "CD83", 11.5, align="right", angle=61)
T(256, 768.3, "ΔMG", 5.5, align="right", angle=61, color="#555555")
T(267, 776, "CD83wt", 11.5, align="right", angle=61)
T(273.3, 768.3, "Cre", 5.5, align="right", angle=61, color="#555555")
T(328.3, 549.3, "gene ratio", 11, align="center")
page.scatter([314.3]*3, [565.7, 577, 589], size=ratio_size(g_legend_ratio), color="#000000", line_width=0)
for s, y in zip(g_legend_labels, [565.7, 577, 589]):
    T(324.3, y, s, 11.3)
T(329, 654.7, "adjusted", 11, align="center")
T(329, 668.3, "p-value", 11, align="center")
for s, y in zip(g_p_labels, [699, 711.7, 724, 736.3]):
    T(322.3, y, s, 11.3)

# h / i
T(417, 647, "Lpl", 10.8, angle=90, style="italic")
T(417, 630, "expression (relative)", 10.8, angle=90)
T(541, 656, "Trem2", 10.8, angle=90, style="italic")
T(541, 621, "expression (relative)", 10.8, angle=90)
T(684, 588, "Fold-change", 11, align="center", angle=90)
T(489, 527, "***", 15, align="center", style="bold")
page.segment(x0=[462.3], x1=[515.7], y0=[531.7], y1=[531.7], line_color="#111111", line_width=1.1)
T(490, 540, "p= 0.0008", 10.3, align="center")
T(613.3, 527, "**", 15, align="center", style="bold")
page.segment(x0=[586], x1=[640], y0=[531.7], y1=[531.7], line_color="#111111", line_width=1.1)
T(615, 540, "p= 0.0055", 10.3, align="center")
T(744.3, 523, "*", 15, align="center", style="bold")
page.segment(x0=[722.7], x1=[769.3], y0=[528], y1=[528], line_color="#111111", line_width=1.1)
T(746.7, 537.3, "p= 0.0159", 10.3, align="center")
T(744.3, 667, "Ccl2", 10.8, align="center", style="italic")

roots = figs + [page]
open("out.html", "w").write(file_html(roots, INLINE))
